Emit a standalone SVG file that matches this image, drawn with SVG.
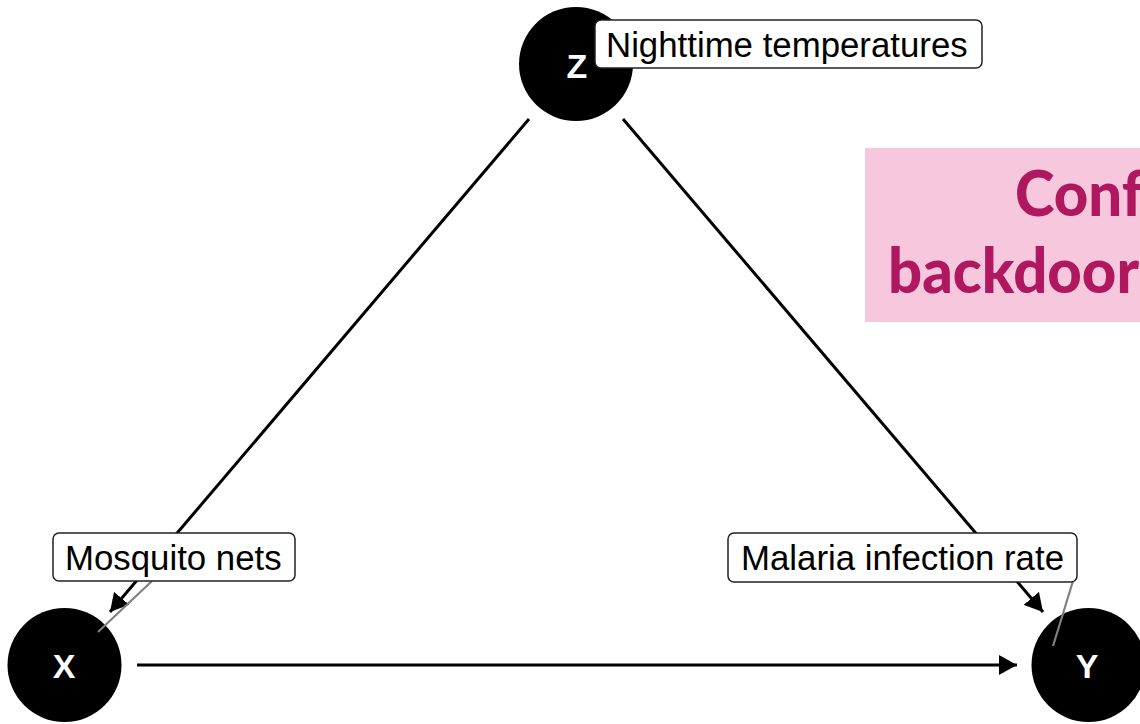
<svg xmlns="http://www.w3.org/2000/svg" width="1140" height="724" viewBox="0 0 1140 724">
  <style>
    .edge { stroke: #000; stroke-width: 3; fill: none; }
    .node { fill: #000; }
    .ntext { fill: #fff; font-family: "Liberation Sans", Arial, sans-serif; font-weight: bold; font-size: 34px; text-anchor: middle; }
    .lbox { fill: #fff; stroke: #222; stroke-width: 1.5; }
    .ltext { fill: #000; font-family: "Liberation Sans", Arial, sans-serif; font-size: 34.8px; }
    .leader { stroke: #808080; stroke-width: 2.2; }
    .ptext { fill: #AF175F; font-family: Lato, "Open Sans", sans-serif; font-weight: 900; font-size: 63px; }
  </style>
  <defs>
    <marker id="arrow" markerUnits="userSpaceOnUse" viewBox="0 0 18 20" refX="18" refY="10" markerWidth="18" markerHeight="20" orient="auto">
      <path d="M0,0 L18,10 L0,20 Z" fill="#000"/>
    </marker>
  </defs>
  <rect width="1140" height="724" fill="#fff"/>

  <g id="callout">
    <rect x="865" y="148" width="290" height="174" fill="#F7C7DE"/>
    <text class="ptext" transform="translate(1015,216) scale(0.95,1)">Conf</text>
    <text class="ptext" transform="translate(888,293) scale(0.95,1)">backdoors</text>
  </g>

  <g id="connectors">
    <line class="edge" x1="529" y1="119" x2="110" y2="612" marker-end="url(#arrow)"/>
    <line class="edge" x1="623" y1="119" x2="1043" y2="612" marker-end="url(#arrow)"/>
    <line class="edge" x1="137" y1="665" x2="1017" y2="665" marker-end="url(#arrow)"/>
  </g>

  <g id="node-Z">
    <circle class="node" cx="576" cy="64" r="57"/>
    <text class="ntext" x="577" y="78">Z</text>
  </g>
  <g id="node-X">
    <circle class="node" cx="64.5" cy="665" r="57"/>
    <text class="ntext" x="64" y="678">X</text>
  </g>
  <g id="node-Y">
    <circle class="node" cx="1088.5" cy="665" r="57"/>
    <text class="ntext" x="1087" y="678">Y</text>
  </g>

  <g id="label-Z">
    <rect class="lbox" x="595" y="20" width="387" height="48" rx="6"/>
    <text class="ltext" x="606" y="57">Nighttime temperatures</text>
  </g>
  <g id="label-X">
    <line class="leader" x1="98" y1="632" x2="152" y2="581"/>
    <rect class="lbox" x="53" y="533" width="242" height="48" rx="6"/>
    <text class="ltext" x="65" y="570">Mosquito nets</text>
  </g>
  <g id="label-Y">
    <line class="leader" x1="1053" y1="646" x2="1073" y2="581"/>
    <rect class="lbox" x="728" y="533" width="349" height="49" rx="6"/>
    <text class="ltext" x="741" y="570">Malaria infection rate</text>
  </g>
</svg>
